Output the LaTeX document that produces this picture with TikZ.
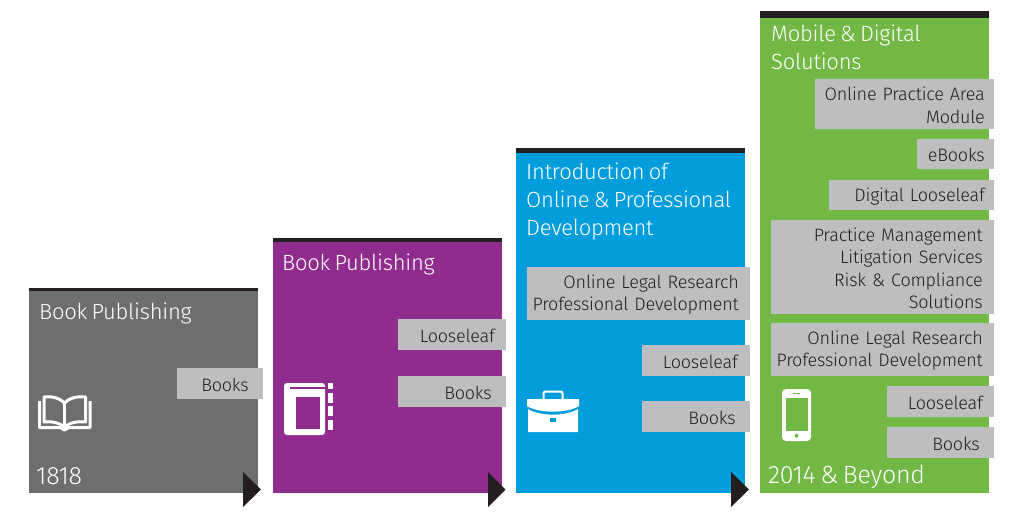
\documentclass[tikz,border=0pt]{standalone}
\usepackage{fontspec}
\setmainfont{Fira Sans Light}[WordSpace=0.7,LetterSpace=-1.2]
\usepackage{xcolor}
\definecolor{stepgray}{HTML}{6D6E70}
\definecolor{steppurple}{HTML}{902C8E}
\definecolor{stepblue}{HTML}{009DDC}
\definecolor{stepgreen}{HTML}{72B844}
\definecolor{tagfill}{HTML}{BCBEC0}
\definecolor{dark}{HTML}{231F20}
\tikzset{
  title/.style={text=white, font=\fontsize{22}{27.8}\selectfont, anchor=north west, align=left, inner sep=0pt},
  year/.style={text=white, font=\fontsize{25}{28}\selectfont, anchor=west, inner sep=0pt},
  tag/.style n args={3}{fill=tagfill, text=dark, font=\fontsize{18}{22.4}\selectfont, anchor=north east,
    align=right, inner ysep=0pt, inner xsep=#3, text width=#1-2*#3, minimum height=#2,
    execute at begin node={\rule{0pt}{15.5pt}}},
  bar/.style={fill=dark},
  flag/.style={fill=dark},
  icon/.style={draw=white, line width=3pt, line join=round}
}
\begin{document}
\begin{tikzpicture}[x=1pt,y=-1pt]
\useasboundingbox (0,0) rectangle (1024,512);
% panels
\fill[stepgray] (29,288) rectangle (258,493);
\fill[bar] (29,288) rectangle (258,291);
\fill[steppurple] (273,238) rectangle (502,493);
\fill[bar] (273,238) rectangle (502,242);
\fill[stepblue] (516,148) rectangle (745,493);
\fill[bar] (516,148) rectangle (745,153);
\fill[stepgreen] (760,11) rectangle (989,493);
\fill[bar] (760,11) rectangle (989,18);
% first step
\node[title] (titleA) at (39,303) {Book Publishing};
\node[tag={86}{31}{14}] (booksA) at (263,368) {Books};
\node[year] (yearA) at (36,476) {1818};
\fill[flag] (243,472)--(261,489.5)--(243,507)--cycle;
\draw[icon] (39.5,401)--(39.5,427.5)--(60,427.5)--(64.5,430)--(69,427.5)--(90,427.5)--(90,401);
\draw[icon] (44,397)..controls (52,396) and (60,398) .. (64.5,403)..controls (69,398) and (77,396) .. (85.5,397)
  --(85.5,422)..controls (77,421) and (69,423) .. (64.5,427)..controls (60,423) and (52,421) .. (44,422)--cycle;
\draw[icon] (64.5,403)--(64.5,427);
% second step
\node[title] (titleB) at (282,254) {Book Publishing};
\node[tag={108}{31}{11}] (looseB) at (506,319) {Looseleaf};
\node[tag={108}{31}{14}] (booksB) at (506,376) {Books};
\fill[flag] (488,472)--(505.500,489.5)--(488,507)--cycle;
\fill[white, rounded corners=3pt] (284,383) rectangle (325,435);
\fill[steppurple] (290,387) rectangle (333,389);
\fill[steppurple] (296,397) rectangle (320,429);
\fill[white] (328,383) rectangle (333,389);
\fill[white] (328,393) rectangle (333,403);
\fill[white] (328,406) rectangle (333,416);
\fill[white] (328,420) rectangle (333,430);
% third step
\node[title] (titleC) at (526,163) {Introduction of\\Online \& Professional\\Development};
\node[tag={223}{53}{3}] (onlineC) at (750,267) {Online Legal Research\rule{8pt}{0pt}\\Professional Development\rule{8pt}{0pt}};
\node[tag={108}{31}{12}] (looseC) at (750,345) {Looseleaf};
\node[tag={108}{31}{14}] (booksC) at (750,401) {Books};
\fill[flag] (731,472)--(749,489.5)--(731,507)--cycle;
\draw[white, line width=2pt, rounded corners=2pt] (543.5,400)--(543.5,391.500)--(562.500,391.500)--(562.500,400);
\fill[white] (527,399)--(579,399)--(579,406)..controls (568,413.5) and (538,413.5) .. (527,406)--cycle;
\fill[white] (528,409)..controls (540,416.5) and (566,416.5) .. (578,409)--(578,432)--(528,432)--cycle;
\fill[stepblue] (550,418) rectangle (556,422);
% fourth step
\node[title] (titleD) at (771,25) {Mobile \& Digital\\Solutions};
\node[tag={179}{50}{9}] (practiceD) at (994,79) {Online Practice Area\\Module};
\node[tag={77}{30}{9}] (ebooksD) at (994,139) {eBooks};
\node[tag={165}{30}{9}] (digitalD) at (994,180) {Digital Looseleaf};
\node[tag={223}{94}{11}] (manageD) at (994,220) {Practice Management\\Litigation Services\\Risk \& Compliance\\Solutions};
\node[tag={223}{53}{3}] (onlineD) at (994,323) {Online Legal Research\rule{8pt}{0pt}\\Professional Development\rule{8pt}{0pt}};
\node[tag={107}{31}{11}] (looseD) at (994,386) {Looseleaf};
\node[tag={107}{31}{14}] (booksD) at (994,427) {Books};
\node[year] (yearD) at (768,477) {2014 \& Beyond};
\fill[white, rounded corners=4pt] (782,389) rectangle (811,441);
\fill[stepgreen] (785.500,397.500) rectangle (807.500,431);
\fill[stepgreen] (793,392.500) rectangle (800,393.500);
\fill[stepgreen] (796.500,435.700) circle (2pt);
\end{tikzpicture}
\end{document}
